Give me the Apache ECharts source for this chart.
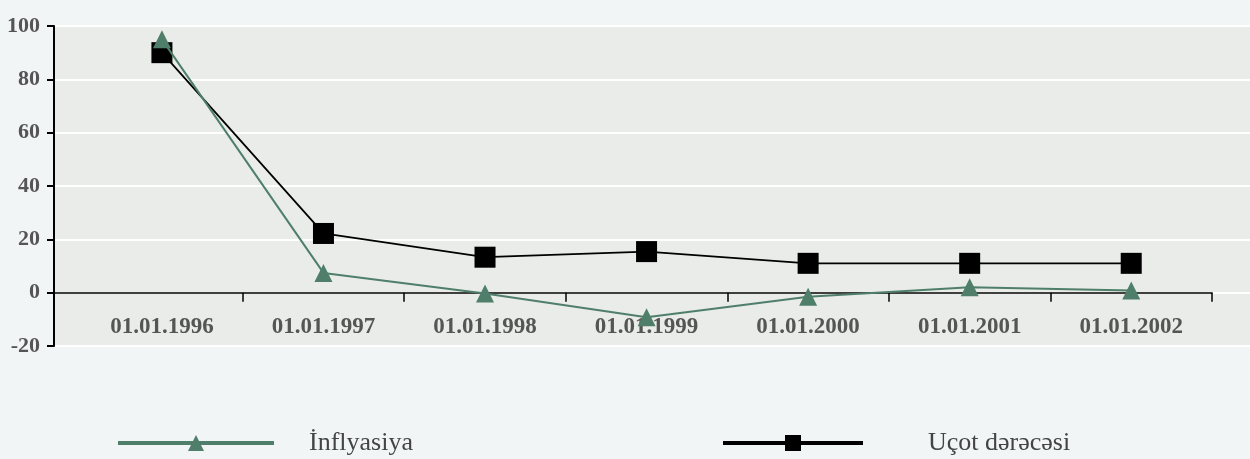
<!DOCTYPE html>
<html>
<head>
<meta charset="utf-8">
<script src="https://cdn.jsdelivr.net/npm/echarts@6/dist/echarts.min.js"></script>
<style>
html,body{margin:0;padding:0;background:#f2f5f6;}
#c{width:1250px;height:459px;}
</style>
</head>
<body>
<div id="c"></div>
<script>
var categories = ['01.01.1996','01.01.1997','01.01.1998','01.01.1999','01.01.2000','01.01.2001','01.01.2002'];
var inflation = [95, 7.4, -0.3, -9.2, -1.5, 2, 0.8];
var discountRate = [90, 22.2, 13.3, 15.4, 11, 11, 11];
var yTicks = [-20, 0, 20, 40, 60, 80, 100];
var seriesNames = ['İnflyasiya', 'Uçot dərəcəsi'];

var FONT = '"Liberation Serif", "DejaVu Serif", serif';
var pos = categories.map(function(_, i){ return i; });
var bounds = categories.map(function(_, i){ return i + 0.5; });

var gridTop = 26, gridBottom = 113, H = 459;
var plotH = H - gridTop - gridBottom;
var yMin = yTicks[0], yMax = yTicks[yTicks.length-1];
// shift the category axis up so it sits on the zero line of the value axis
var zeroOffset = -plotH * (0 - yMin) / (yMax - yMin);

var chart = echarts.init(document.getElementById('c'));
chart.setOption({
  backgroundColor: '#f2f5f6',
  animation: false,
  grid: [
    {left: 54, right: 0, top: gridTop, bottom: gridBottom, show: true, backgroundColor: '#e9ece8', borderWidth: 0},
    {left: 54, right: 38, top: gridTop, bottom: gridBottom}
  ],
  xAxis: [
    {gridIndex: 0, type: 'value', show: false, min: 0, max: 1},
    {gridIndex: 1, type: 'value', min: -0.668, max: 6.5, position: 'bottom', offset: zeroOffset,
     axisLine: {show: true, onZero: false, lineStyle: {color: '#000', width: 1.5}},
     axisTick: {show: true, inside: false, length: 9, customValues: bounds, lineStyle: {color: '#000', width: 1.5}},
     axisLabel: {show: true, customValues: pos, margin: 23,
       formatter: function(v){ return categories[Math.round(v)] || ''; },
       fontFamily: FONT, fontWeight: 'bold', fontSize: 23, color: '#555'},
     splitLine: {show: false}}
  ],
  yAxis: [
    {gridIndex: 0, type: 'value', min: yMin, max: yMax, interval: 20,
     axisLine: {show: true, lineStyle: {color: '#000', width: 2}},
     axisTick: {show: true, length: 7, lineStyle: {color: '#000', width: 2}},
     axisLabel: {margin: 14, fontFamily: FONT, fontWeight: 'bold', fontSize: 22, color: '#555'},
     splitLine: {show: true, lineStyle: {color: '#ffffff', width: 2}}},
    {gridIndex: 1, type: 'value', min: yMin, max: yMax, show: false,
     splitLine: {show: false}}
  ],
  legend: [
    {data: [seriesNames[0]], left: 111, top: 425, itemWidth: 156, itemHeight: 20,
     lineStyle: {width: 4},
     textStyle: {fontFamily: FONT, fontSize: 26, color: '#444', padding: [0,0,0,30]}},
    {data: [seriesNames[1]], left: 716, top: 425, itemWidth: 140, itemHeight: 20,
     lineStyle: {width: 4},
     textStyle: {fontFamily: FONT, fontSize: 26, color: '#444', padding: [0,0,0,60]}}
  ],
  series: [
    {name: seriesNames[1], type: 'line', xAxisIndex: 1, yAxisIndex: 1,
     data: discountRate.map(function(v, i){ return [i, v]; }),
     symbol: 'rect', symbolSize: 21,
     lineStyle: {color: '#000', width: 1.8}, itemStyle: {color: '#000'}, z: 3},
    {name: seriesNames[0], type: 'line', xAxisIndex: 1, yAxisIndex: 1,
     data: inflation.map(function(v, i){ return [i, v]; }),
     symbol: 'triangle', symbolSize: 18,
     lineStyle: {color: '#4f7f6a', width: 2}, itemStyle: {color: '#4f7f6a'}, z: 4}
  ]
});
</script>
</body>
</html>
